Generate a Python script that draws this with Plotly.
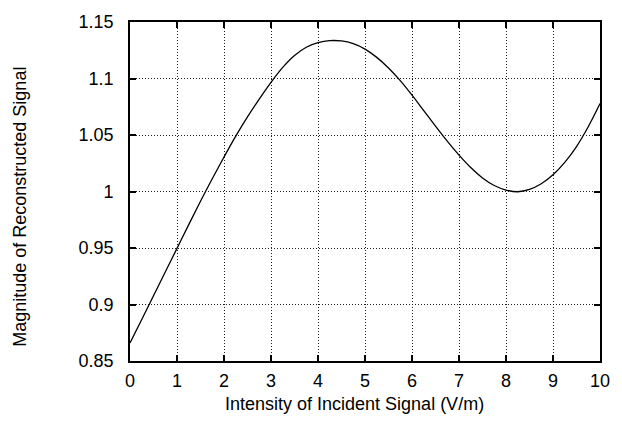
import plotly.graph_objects as go

x_vals = [0, 0.25, 0.5, 0.75, 1.0, 1.25, 1.5, 1.75, 2.0, 2.25, 2.5, 2.75, 3.0, 3.25, 3.5, 3.75,
          4.0, 4.25, 4.5, 4.75, 5.0, 5.25, 5.5, 5.75, 6.0, 6.25, 6.5, 6.75, 7.0, 7.25, 7.5, 7.75,
          8.0, 8.25, 8.5, 8.75, 9.0, 9.25, 9.5, 9.75, 10.0]
y_vals = [0.866, 0.8868, 0.9077, 0.9287, 0.9497, 0.9707, 0.9913, 1.0113, 1.0305, 1.049, 1.066, 1.0818, 1.0966, 1.1098, 1.1203, 1.1277,
          1.1318, 1.1335, 1.1332, 1.1308, 1.126, 1.1187, 1.1093, 1.0981, 1.0853, 1.0716, 1.0578, 1.0445, 1.0322, 1.0212, 1.0120, 1.0053,
          1.0013, 0.9998, 1.0018, 1.0068, 1.0148, 1.0258, 1.0398, 1.0573, 1.0778]

x_ticks = [0, 1, 2, 3, 4, 5, 6, 7, 8, 9, 10]
y_ticks = [0.85, 0.9, 0.95, 1.0, 1.05, 1.1, 1.15]
y_tick_text = ["0.85", "0.9", "0.95", "1", "1.05", "1.1", "1.15"]

x_title = "Intensity of Incident Signal (V/m)"
y_title = "Magnitude of Reconstructed Signal"

font_family = "Liberation Sans, Arial, sans-serif"

fig = go.Figure()
fig.add_trace(go.Scatter(x=x_vals, y=y_vals, mode="lines",
                         line=dict(color="black", width=1.3, shape="spline", smoothing=1),
                         showlegend=False))

axis_common = dict(
    showline=True, linecolor="black", linewidth=1.6, mirror="allticks",
    ticks="inside", ticklen=6, tickwidth=1.6, tickcolor="black",
    showgrid=True, gridcolor="#222222", gridwidth=1, griddash="1px,2px",
    zeroline=False,
    tickfont=dict(family=font_family, size=18, color="black"),
)

fig.update_xaxes(range=[0, 10], tickvals=x_ticks, ticklabelstandoff=3, **axis_common)
fig.update_yaxes(range=[0.85, 1.15], tickvals=y_ticks, ticktext=y_tick_text, ticklabelstandoff=11, **axis_common)

fig.add_annotation(text=x_title, xref="paper", yref="paper", x=0.478, y=-0.127,
                   xanchor="center", yanchor="middle", showarrow=False,
                   font=dict(family=font_family, size=18, color="black"))
fig.add_annotation(text=y_title, xref="paper", yref="paper", x=-0.234, y=0.455,
                   xanchor="center", yanchor="middle", showarrow=False, textangle=-90,
                   font=dict(family=font_family, size=18, color="black"))

fig.update_layout(
    width=622, height=430,
    margin=dict(l=130, r=19, t=21, b=69),
    plot_bgcolor="white", paper_bgcolor="white",
)

fig.write_html("out.html")
